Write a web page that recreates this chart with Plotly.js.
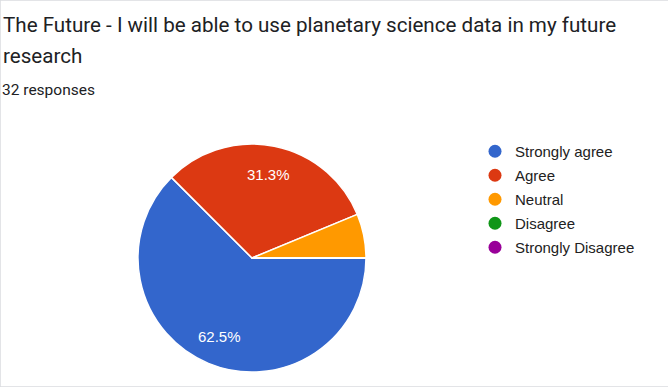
<!DOCTYPE html>
<html>
<head>
<meta charset="utf-8">
<script src="https://cdn.plot.ly/plotly-3.0.1.min.js"></script>
<style>
  html, body { margin: 0; padding: 0; background: #ffffff; }
  #chart { width: 668px; height: 387px; }
</style>
</head>
<body>
<div id="chart"></div>
<script>
const titleLine1 = "The Future - I will be able to use planetary science data in my future";
const titleLine2 = "research";
const subtitle = "32 responses";
const categories = ["Strongly agree", "Agree", "Neutral", "Disagree", "Strongly Disagree"];
const counts = [20, 10, 2, 0, 0];
const colors = ["#3366cc", "#dc3912", "#ff9900", "#109618", "#990099"];
const showLabel = [true, true, false, false, false];

const W = 668, H = 387;
const py = (y) => 1 - y / H;

// pie geometry (pixels)
const PIE_L = 138, PIE_R = 366, PIE_T = 144, PIE_B = 372;
const START_DEG = 90;       // first slice starts at 3 o'clock
const LABEL_FRAC = 0.745;   // label distance as fraction of radius

const pie = {
  type: "pie",
  labels: categories,
  values: counts,
  sort: false,
  direction: "clockwise",
  rotation: START_DEG,
  marker: { colors: colors, line: { color: "#ffffff", width: 1.5 } },
  textinfo: "none",
  showlegend: false,
  hoverinfo: "label+percent",
  domain: { x: [PIE_L / W, PIE_R / W], y: [py(PIE_B), py(PIE_T)] }
};

// percentage labels placed along each slice's bisector, derived from the data
const total = counts.reduce((a, b) => a + b, 0);
const cxPx = (PIE_L + PIE_R) / 2, cyPx = (PIE_T + PIE_B) / 2, Rpx = (PIE_R - PIE_L) / 2;
const labelAnnotations = [];
let cum = 0;
counts.forEach((v, i) => {
  const mid = (START_DEG + 360 * (cum + v / 2) / total) * Math.PI / 180;
  cum += v;
  if (!showLabel[i] || v === 0) return;
  const xPx = cxPx + LABEL_FRAC * Rpx * Math.sin(mid);
  const yPx = cyPx - LABEL_FRAC * Rpx * Math.cos(mid);
  labelAnnotations.push({
    text: (100 * v / total).toFixed(1) + "%",
    xref: "paper", yref: "paper", x: xPx / W, y: py(yPx),
    xanchor: "center", yanchor: "middle", showarrow: false, borderpad: 0,
    font: { family: "Liberation Sans, Arial, sans-serif", size: 15, color: "#ffffff" }
  });
});

const legendTraces = categories.map((c, i) => ({
  type: "scatter",
  mode: "markers",
  x: [null], y: [null],
  name: c,
  legendgroup: "g" + i,
  marker: { color: colors[i], size: 13, symbol: "circle" },
  showlegend: true,
  hoverinfo: "skip"
}));

const layout = {
  width: W, height: H,
  margin: { l: 0, r: 0, t: 0, b: 0 },
  paper_bgcolor: "#ffffff",
  plot_bgcolor: "#ffffff",
  xaxis: { visible: false },
  yaxis: { visible: false },
  showlegend: true,
  legend: {
    x: 475 / W, xanchor: "left",
    y: py(135), yanchor: "top",
    font: { family: "Liberation Sans, Arial, sans-serif", size: 15, color: "#222222" },
    tracegroupgap: 1.5,
    itemwidth: 30,
    bgcolor: "rgba(0,0,0,0)"
  },
  annotations: [
    { text: titleLine1, xref: "paper", yref: "paper", x: 0, y: py(25), xanchor: "left", yanchor: "middle",
      xshift: 2, showarrow: false, borderpad: 0,
      font: { family: "Roboto, sans-serif", size: 20.6, color: "#202124" } },
    { text: titleLine2, xref: "paper", yref: "paper", x: 0, y: py(56), xanchor: "left", yanchor: "middle",
      xshift: 2, showarrow: false, borderpad: 0,
      font: { family: "Roboto, sans-serif", size: 20.6, color: "#202124" } },
    { text: subtitle, xref: "paper", yref: "paper", x: 0, y: py(90), xanchor: "left", yanchor: "middle",
      xshift: 1, showarrow: false, borderpad: 0,
      font: { family: "Roboto, sans-serif", size: 15.5, color: "#202124" } }
  ].concat(labelAnnotations),
  shapes: [
    { type: "rect", xref: "paper", yref: "paper", x0: 0, x1: 1.2, y0: 0, y1: 1,
      line: { color: "#dadce0", width: 1.5 }, fillcolor: "rgba(0,0,0,0)", layer: "below" }
  ]
};

Plotly.newPlot("chart", [pie].concat(legendTraces), layout, { displayModeBar: false, staticPlot: true });
</script>
</body>
</html>
